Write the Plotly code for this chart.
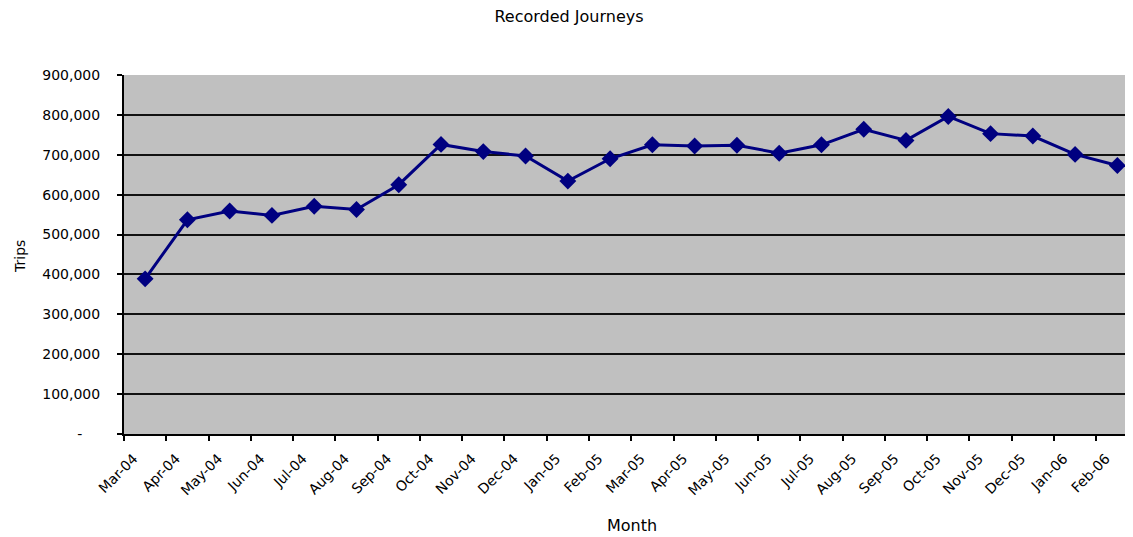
import plotly.graph_objects as go

months = ["Mar-04", "Apr-04", "May-04", "Jun-04", "Jul-04", "Aug-04", "Sep-04", "Oct-04",
          "Nov-04", "Dec-04", "Jan-05", "Feb-05", "Mar-05", "Apr-05", "May-05", "Jun-05",
          "Jul-05", "Aug-05", "Sep-05", "Oct-05", "Nov-05", "Dec-05", "Jan-06", "Feb-06"]
trips = [389000, 537000, 559000, 548000, 571000, 563000, 625000, 726000,
         708000, 697000, 634000, 690000, 725000, 722000, 724000, 704000,
         725000, 764000, 736000, 796000, 753000, 747000, 701000, 673000]
y_ticks = [0, 100000, 200000, 300000, 400000, 500000, 600000, 700000, 800000, 900000]
y_tick_text = ["-\u00a0\u00a0\u00a0\u00a0"] + [f"{v:,}" for v in y_ticks[1:]]

idx = list(range(len(months)))
FONT = "DejaVu Sans"

# page has an 8px body margin; plot area should span page x 124..1133, y 75..434
PL, PT, PW, PH = 124, 75, 1009, 359

fig = go.Figure()
fig.add_trace(go.Scatter(
    x=idx, y=trips, mode="lines+markers",
    line=dict(color="#000080", width=3),
    marker=dict(symbol="diamond", size=13, color="#000080"),
    showlegend=False, hoverinfo="skip",
))

xr = [-0.5, 23.37]
fig.update_layout(
    width=1125, height=529,
    margin=dict(l=PL - 8, r=0, t=PT - 8, b=529 - (PT - 8) - PH),
    paper_bgcolor="white", plot_bgcolor="#C0C0C0",
    font=dict(family=FONT, size=14, color="black"),
    title=dict(text="Recorded Journeys", x=(569 - 8) / 1125, xanchor="center",
               y=1 - (16 - 8) / 529, yanchor="middle", yref="container",
               font=dict(family=FONT, size=16)),
    xaxis=dict(
        range=xr, tickvals=[i - 0.5 for i in idx], showticklabels=False,
        ticks="outside", ticklen=5, tickwidth=2, tickcolor="black",
        showline=True, linecolor="black", linewidth=2, showgrid=False, zeroline=False,
    ),
    xaxis2=dict(
        range=xr, overlaying="x", anchor="y", side="bottom",
        tickvals=[i - 0.27 for i in idx], ticktext=months, tickangle=-45,
        ticks="outside", ticklen=10, tickcolor="rgba(0,0,0,0)",
        showgrid=False, zeroline=False, showline=False,
        tickfont=dict(family=FONT, size=14),
    ),
    yaxis=dict(
        range=[0, 900000], tickvals=y_ticks, ticktext=y_tick_text,
        ticks="outside", ticklen=5, tickwidth=1.5, tickcolor="black",
        ticklabelstandoff=14,
        showline=True, linecolor="black", linewidth=2,
        showgrid=True, gridcolor="#111111", gridwidth=1.6, zeroline=False,
        tickfont=dict(family=FONT, size=14),
    ),
    annotations=[
        dict(text="Trips", xref="paper", yref="paper",
             x=(20 - PL) / PW, y=(PT + PH - 257) / PH, textangle=-90,
             xanchor="center", yanchor="middle", showarrow=False,
             font=dict(family=FONT, size=14)),
        dict(text="Month", xref="paper", yref="paper",
             x=(632 - PL) / PW, y=(PT + PH - 525) / PH,
             xanchor="center", yanchor="middle", showarrow=False,
             font=dict(family=FONT, size=16)),
    ],
)
# invisible trace on xaxis2 so the overlay axis renders
fig.add_trace(go.Scatter(x=[0], y=[None], xaxis="x2", yaxis="y", showlegend=False, hoverinfo="skip"))

fig.write_html("out.html")
